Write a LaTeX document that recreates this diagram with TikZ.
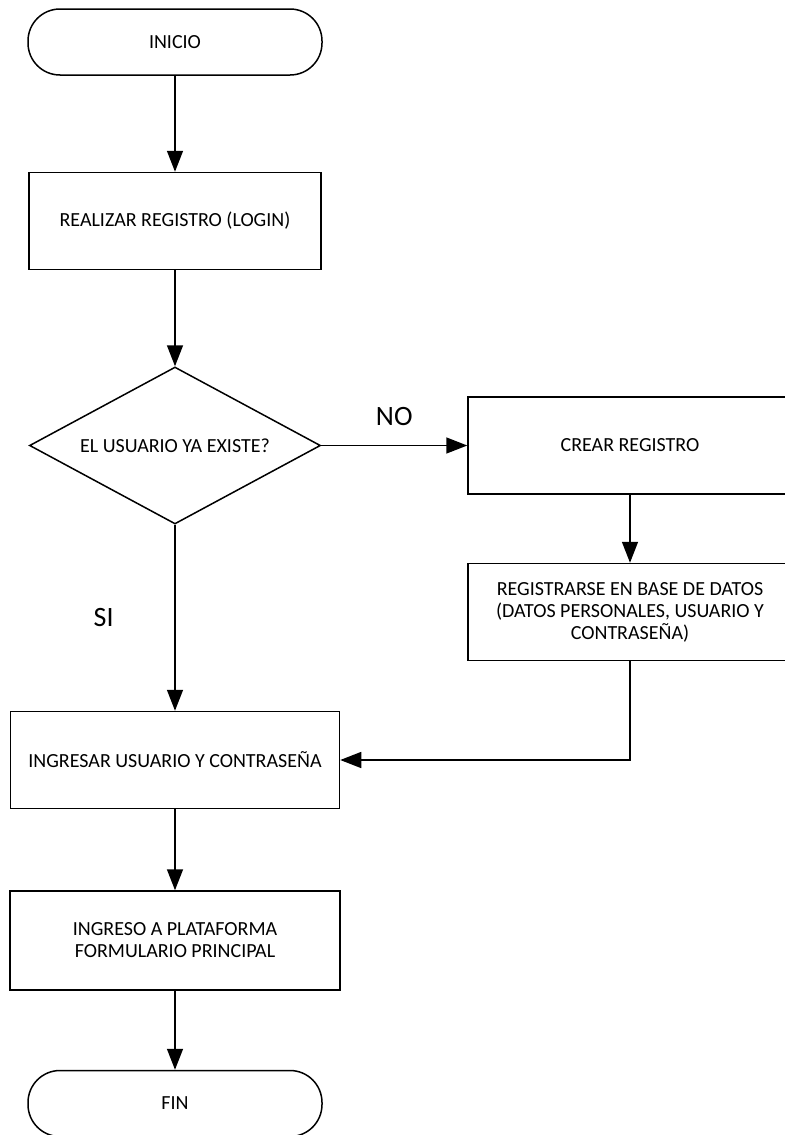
\documentclass[tikz,border=0pt]{standalone}
\usepackage{fontspec}
\setmainfont{Carlito}
\usepackage{tikz}
\usetikzlibrary{shapes, positioning, arrows.meta}
\newcommand{\flowNodeDistance}{48pt}
\newcommand{\flowTextSize}{\fontsize{10}{11}\selectfont}
\tikzstyle{terminal}=[draw, rectangle, rounded corners=16pt, minimum width=147pt, minimum height=33pt]
\tikzstyle{process}=[draw, rectangle, minimum width=146pt, minimum height=48.5pt, align=center]
\tikzstyle{decision}=[draw, diamond, aspect=1.85, minimum width=145.5pt, minimum height=78.5pt, inner sep=0pt]
\tikzstyle{arrow}=[-{Triangle[length=10.5pt, width=8pt]}]
\tikzstyle{branchLabel}=[font=\fontsize{14}{16}\selectfont]

\begin{document}
\begin{tikzpicture}[x=0.5pt, y=-0.5pt, line width=0.75pt,
    node distance=\flowNodeDistance, every node/.style={font=\flowTextSize}]
  \useasboundingbox (0,0) rectangle (784,1135);
  % main column
  \node[terminal] (inicio) at (175,42) {INICIO};
  \node[process, below=of inicio] (login) {REALIZAR REGISTRO (LOGIN)};
  \node[decision, below=48pt of login] (existe) {EL USUARIO YA EXISTE?};
  \node[process, minimum width=164.5pt, below=93pt of existe] (ingresar) {INGRESAR USUARIO Y CONTRASEÑA};
  \node[process, minimum width=165pt, minimum height=49.5pt, below=40.5pt of ingresar] (plataforma)
    {INGRESO A PLATAFORMA\\FORMULARIO PRINCIPAL};
  \node[terminal, below=39.5pt of plataforma] (fin) {FIN};
  % right branch
  \node[process, minimum width=162pt, right=73pt of existe] (crear) {CREAR REGISTRO};
  \node[process, minimum width=162pt, below=34pt of crear] (registro)
    {REGISTRARSE EN BASE DE DATOS\\(DATOS PERSONALES, USUARIO Y\\CONTRASEÑA)};

  \draw[arrow] (inicio) -- (login);
  \draw[arrow] (login) -- (existe);
  \draw[arrow] (existe) -- node[branchLabel, above=6pt] {NO} (crear);
  \draw[arrow] (existe) -- node[branchLabel, left=27pt] {SI} (ingresar);
  \draw[arrow] (crear) -- (registro);
  \draw[arrow] (registro.south) |- (ingresar.east);
  \draw[arrow] (ingresar) -- (plataforma);
  \draw[arrow] (plataforma) -- (fin);
\end{tikzpicture}
\end{document}
